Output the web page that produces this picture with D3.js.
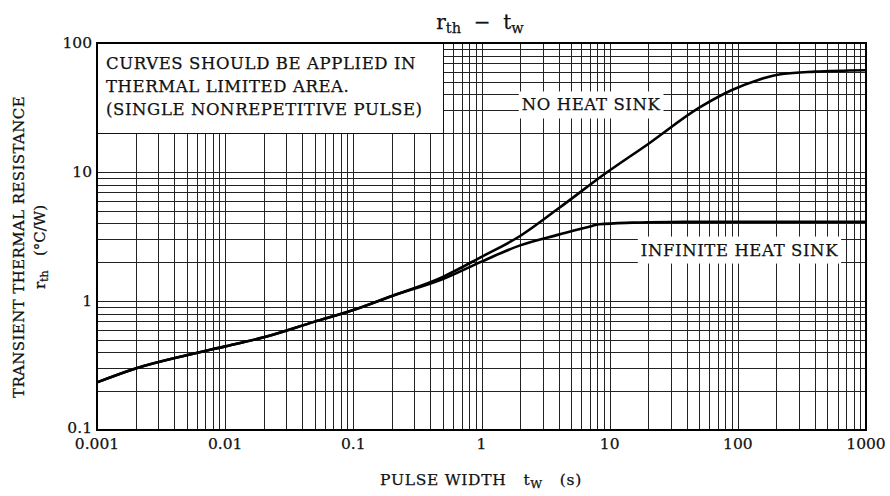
<!DOCTYPE html>
<html>
<head>
<meta charset="utf-8">
<script src="https://cdn.jsdelivr.net/npm/d3@7"></script>
<style>
  body { margin: 0; background: #fff; }
  text { font-family: "DejaVu Serif", "Liberation Serif", serif; fill: #111; stroke: #111; stroke-width: 0.25px; }
</style>
</head>
<body>
<div id="chart"></div>
<script>
// pulse width (s) and transient thermal resistance (°C/W)
var noSinkTw = [0.001, 0.002, 0.005, 0.01, 0.02, 0.05, 0.1, 0.2, 0.5, 1, 2, 4, 9.3, 20, 50, 90, 146, 222, 400, 1000];
var noSinkRth = [0.234, 0.30, 0.38, 0.445, 0.523, 0.692, 0.851, 1.094, 1.54, 2.2, 3.19, 5.23, 9.77, 16.5, 31.5, 43.2, 52, 57.5, 60, 61.5];

var infSinkTw = [0.001, 0.002, 0.005, 0.01, 0.02, 0.05, 0.1, 0.2, 0.5, 1, 2, 4, 7.3, 8.3, 15, 30, 100, 1000];
var infSinkRth = [0.234, 0.30, 0.38, 0.445, 0.523, 0.692, 0.851, 1.094, 1.48, 2.02, 2.7, 3.27, 3.82, 3.93, 4.05, 4.1, 4.12, 4.12];

var xTicks = [0.001, 0.01, 0.1, 1, 10, 100, 1000];
var xTickLabels = ["0.001", "0.01", "0.1", "1", "10", "100", "1000"];
var yTicks = [0.1, 1, 10, 100];
var yTickLabels = ["0.1", "1", "10", "100"];

var noteLines = ["CURVES SHOULD BE APPLIED IN", "THERMAL LIMITED AREA.", "(SINGLE NONREPETITIVE PULSE)"];

var width = 890, height = 496;
var plotL = 97, plotR = 866, plotT = 43, plotB = 430;

var svg = d3.select("#chart").append("svg")
  .attr("width", width)
  .attr("height", height);

var x = d3.scaleLog().domain([0.001, 1000]).range([plotL, plotR]);
var y = d3.scaleLog().domain([0.1, 100]).range([plotB, plotT]);

// grid lines: 1..9 in every decade
function minorValues(lo, hi) {
  var out = [];
  for (var e = Math.round(Math.log10(lo)); e < Math.round(Math.log10(hi)); e++) {
    for (var k = 1; k < 10; k++) out.push(k * Math.pow(10, e));
  }
  out.push(hi);
  return out;
}

var grid = svg.append("g").attr("shape-rendering", "crispEdges");

grid.selectAll(".vline")
  .data(minorValues(0.001, 1000))
  .enter().append("line")
  .attr("class", "vline")
  .attr("x1", function (d) { return Math.round(x(d)) + 0.5; })
  .attr("x2", function (d) { return Math.round(x(d)) + 0.5; })
  .attr("y1", plotT)
  .attr("y2", plotB)
  .style("stroke", "#222")
  .style("stroke-width", 1);

grid.selectAll(".hline")
  .data(minorValues(0.1, 100))
  .enter().append("line")
  .attr("class", "hline")
  .attr("x1", plotL)
  .attr("x2", plotR)
  .attr("y1", function (d) { return Math.round(y(d)) + 0.5; })
  .attr("y2", function (d) { return Math.round(y(d)) + 0.5; })
  .style("stroke", "#222")
  .style("stroke-width", 1);

// note box in the top left corner, bounded by the 0.5 s and 20 °C/W lines
svg.append("rect")
  .attr("x", x(0.001))
  .attr("y", y(100))
  .attr("width", Math.round(x(0.5)) + 0.5 - x(0.001))
  .attr("height", Math.round(y(20)) + 0.5 - y(100))
  .style("fill", "#fff")
  .style("stroke", "#111")
  .style("stroke-width", 1);

svg.selectAll(".note")
  .data(noteLines)
  .enter().append("text")
  .attr("class", "note")
  .attr("x", plotL + 9)
  .attr("y", function (d, i) { return plotT + 25.5 + i * 23.4; })
  .style("font-size", "16.5px")
  .style("letter-spacing", "0.6px")
  .text(function (d) { return d; });

// curve labels with white backing
var labels = [
  { text: "NO HEAT SINK", tw: 2.06, rth: 30 },
  { text: "INFINITE HEAT SINK", tw: 17.5, rth: 2.25 }
];

var lab = svg.selectAll(".lab")
  .data(labels)
  .enter().append("g")
  .attr("class", "lab");

lab.append("rect").style("fill", "#fff").style("stroke", "none");
lab.append("text")
  .attr("x", function (d) { return x(d.tw); })
  .attr("y", function (d) { return y(d.rth); })
  .style("font-size", "16.5px")
  .style("letter-spacing", "0.6px")
  .text(function (d) { return d.text; });

lab.each(function () {
  var g = d3.select(this);
  var b = g.select("text").node().getBBox();
  g.select("rect")
    .attr("x", b.x - 3)
    .attr("y", b.y - 4)
    .attr("width", b.width + 6)
    .attr("height", b.height + 8);
});

// curves
var line = d3.line()
  .x(function (d) { return x(d[0]); })
  .y(function (d) { return y(d[1]); })
  .curve(d3.curveMonotoneX);

svg.append("path")
  .datum(d3.zip(noSinkTw, noSinkRth))
  .attr("d", line)
  .style("fill", "none")
  .style("stroke", "#000")
  .style("stroke-width", 2.6)
  .style("stroke-linejoin", "round");

svg.append("path")
  .datum(d3.zip(infSinkTw, infSinkRth))
  .attr("d", line)
  .style("fill", "none")
  .style("stroke", "#000")
  .style("stroke-width", 2.6)
  .style("stroke-linejoin", "round");

// frame
svg.append("rect")
  .attr("x", plotL)
  .attr("y", plotT)
  .attr("width", plotR - plotL)
  .attr("height", plotB - plotT)
  .style("fill", "none")
  .style("stroke", "#000")
  .style("stroke-width", 2);

// tick labels
svg.selectAll(".xt")
  .data(xTicks)
  .enter().append("text")
  .attr("class", "xt")
  .attr("x", function (d) { return x(d); })
  .attr("y", plotB + 19)
  .attr("text-anchor", "middle")
  .style("font-size", "15.5px")
  .text(function (d, i) { return xTickLabels[i]; });

svg.selectAll(".yt")
  .data(yTicks)
  .enter().append("text")
  .attr("class", "yt")
  .attr("x", plotL - 5)
  .attr("y", function (d, i) { return y(d) + (i == 0 ? 3 : 5); })
  .attr("text-anchor", "end")
  .style("font-size", "15.5px")
  .text(function (d, i) { return yTickLabels[i]; });

// title
var title = svg.append("text")
  .attr("x", 480)
  .attr("y", 29)
  .attr("text-anchor", "middle")
  .attr("xml:space", "preserve")
  .style("font-size", "20px");
title.append("tspan").text("r");
title.append("tspan").attr("dy", 4).style("font-size", "14.5px").text("th");
title.append("tspan").attr("dy", -4).text("  \u2212  ");
title.append("tspan").text("t");
title.append("tspan").attr("dy", 4).style("font-size", "14.5px").text("w");

// x axis title
var xt = svg.append("text")
  .attr("x", 481)
  .attr("y", 485)
  .attr("text-anchor", "middle")
  .attr("xml:space", "preserve")
  .style("font-size", "15.5px")
  .style("letter-spacing", "0.7px");
xt.append("tspan").text("PULSE WIDTH   t");
xt.append("tspan").attr("dy", 3).style("font-size", "11.5px").text("W");
xt.append("tspan").attr("dy", -3).text("   (s)");

// y axis title, two lines
var yc = 247;
svg.append("text")
  .attr("transform", "translate(24," + yc + ") rotate(-90)")
  .attr("text-anchor", "middle")
  .style("font-size", "15px")
  .style("letter-spacing", "0.4px")
  .text("TRANSIENT THERMAL RESISTANCE");

var yt2 = svg.append("text")
  .attr("transform", "translate(45," + yc + ") rotate(-90)")
  .attr("text-anchor", "middle")
  .attr("xml:space", "preserve")
  .style("font-size", "15px");
yt2.append("tspan").text("r");
yt2.append("tspan").attr("dy", 3).style("font-size", "11px").text("th");
yt2.append("tspan").attr("dy", -3).text("   (\u00b0C/W)");
</script>
</body>
</html>
